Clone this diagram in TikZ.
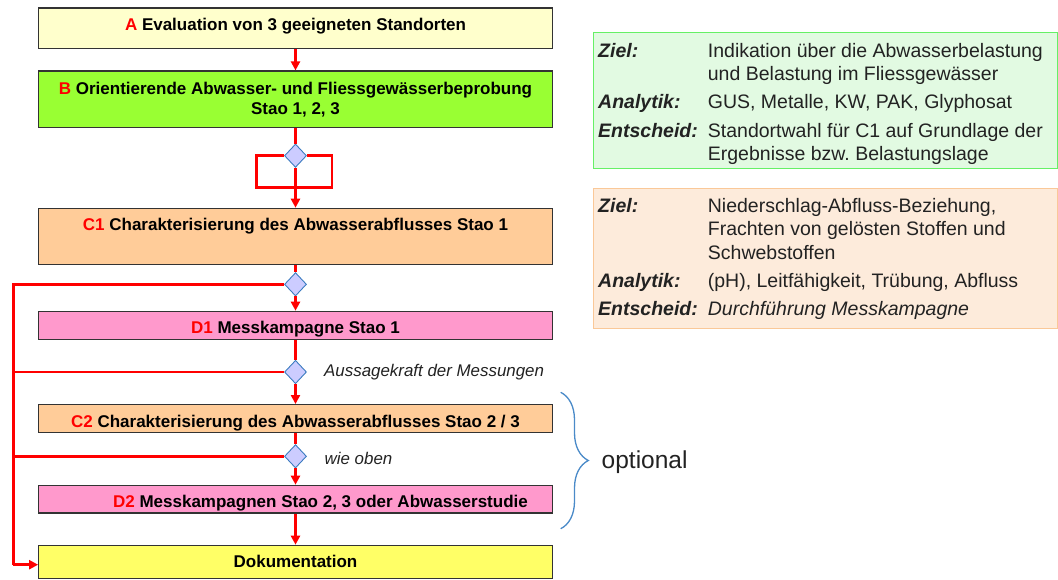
\documentclass[tikz,border=0pt]{standalone}
\usepackage{fontspec}
\setmainfont{Liberation Sans}
\frenchspacing
\usetikzlibrary{shapes.geometric,arrows.meta,decorations.pathreplacing,calc}
\definecolor{cA}{HTML}{FFFFCC}
\definecolor{cB}{HTML}{99FF33}
\definecolor{cC}{HTML}{FFCC99}
\definecolor{cD}{HTML}{FF99CC}
\definecolor{cDok}{HTML}{FFFF66}
\definecolor{boxline}{HTML}{333333}
\definecolor{diafill}{HTML}{CCCCFF}
\definecolor{dialine}{HTML}{3C7CC0}
\definecolor{bracecol}{HTML}{4A8AC8}
\definecolor{gfill}{HTML}{E2FAE2}
\definecolor{gline}{HTML}{66F066}
\definecolor{ofill}{HTML}{FDEBDB}
\definecolor{oline}{HTML}{FAC898}
\definecolor{txtgray}{HTML}{222222}
\begin{document}
\begin{tikzpicture}[x=1pt,y=-1pt,
  flow/.style={draw=boxline, line width=1.2pt, minimum width=513.6pt,
    inner xsep=0pt, inner ysep=0pt, anchor=north,
    font=\fontsize{17}{20}\selectfont\bfseries},
  dec/.style={diamond, draw=dialine, fill=diafill, line width=0.9pt,
    minimum width=22pt, minimum height=23.4pt, inner sep=0pt},
  conn/.style={draw=red, line width=2.6pt},
  arr/.style={conn, -{Triangle[length=9pt,width=9pt]}},
  infobox/.style={line width=1.5pt, minimum width=464.3pt, inner sep=0pt, anchor=north west},
  infotext/.style={anchor=base west, inner sep=0pt, font=\fontsize{19.5}{23.4}\selectfont, text=txtgray},
  note/.style={anchor=west, inner sep=0pt, font=\fontsize{16.9}{19}\selectfont\itshape, text=txtgray}
]
\useasboundingbox (0,0) rectangle (1058,579);

% flow boxes
\node[flow, fill=cA, text height=22.5pt, text depth=17.9pt] (A) at (295.5,7.3)
  {\textcolor{red}{A} Evaluation von 3 geeigneten Standorten};
\node[flow, fill=cB, anchor=center, align=center, minimum height=56.7pt] (B) at (295.5,99.35)
  {\textcolor{red}{B} Orientierende Abwasser- und Fliessgewässerbeprobung\\Stao 1, 2, 3};
\node[flow, fill=cC, text height=22.1pt, text depth=34.2pt] (C1) at (295.5,207.7)
  {\textcolor{red}{C1} Charakterisierung des Abwasserabflusses Stao 1};
\node[flow, fill=cD, text height=21.8pt, text depth=6.5pt] (D1) at (295.5,310.7)
  {\textcolor{red}{D1} Messkampagne Stao 1};
\node[flow, fill=cC, text height=22.8pt, text depth=4.9pt] (C2) at (295.5,404)
  {\textcolor{red}{C2} Charakterisierung des Abwasserabflusses Stao 2 / 3};
\node[flow, fill=cD, text height=22.1pt, text depth=5.5pt] (D2) at (295.5,484.7)
  {\hspace*{50pt}\textcolor{red}{D2} Messkampagnen Stao 2, 3 oder Abwasserstudie};
\node[flow, fill=cDok, text height=21.8pt, text depth=11.5pt] (Dok) at (295.5,544.7)
  {Dokumentation};

% decisions
\node[dec] (d1) at (295.5,155.7) {};
\node[dec] (d2) at (295.5,284.3) {};
\node[dec] (d3) at (295.5,372) {};
\node[dec] (d4) at (295.5,456.3) {};

\coordinate (rtl) at (256.7,155.7);
\coordinate (rbr) at (332,187.7);
\coordinate (L) at (13.3,564.7);

% connectors
\draw[arr] (A.south) -- (B.north);
\draw[conn] (B.south) -- (d1.north);
\draw[conn] (d1.west) -- (rtl) |- (rbr) -- (rbr |- d1.east) -- (d1.east);
\draw[arr] (d1.south) -- (C1.north);
\draw[conn] (C1.south) -- (d2.north);
\draw[arr] (d2.south) -- (D1.north);
\draw[conn] (D1.south) -- (d3.north);
\draw[arr] (d3.south) -- (C2.north);
\draw[conn] (C2.south) -- (d4.north);
\draw[arr] (d4.south) -- (D2.north);
\draw[arr] (D2.south) -- (Dok.north);
\draw[conn] (d2.west) -| (L);
\draw[conn] (d3.west) -- (d3.west -| L);
\draw[conn] (d4.west) -- (d4.west -| L);
\draw[arr] (L) -- (L -| Dok.west);

% notes
\node[note] (n1) at (324,372) {Aussagekraft der Messungen};
\node[note] (n2) at (324.5,458) {wie oben};

% brace
\coordinate (bt) at (560.7,392.3);
\coordinate (bb) at (560.7,528.7);
\draw[bracecol, line width=1.3pt, decorate, decoration={brace, amplitude=27.6pt}] (bt) -- (bb);
\node[anchor=west, inner sep=0pt, font=\fontsize{24.5}{28}\selectfont, text=txtgray] (opt) at (601.5,461.7) {optional};

% info boxes
\node[infobox, draw=gline, fill=gfill, minimum height=136pt] (G) at (592.7,31.7) {};
\node[infotext] (Gt) at ($(G.north west)+(5.3,25.5)$) {%
\begin{tabular}[t]{@{}p{109.7pt}@{}l@{}}
\textbf{\textit{Ziel:}} & Indikation über die Abwasserbelastung\\
 & und Belastung im Fliessgewässer\\[4.8pt]
\textbf{\textit{Analytik:}} & GUS, Metalle, KW, PAK, Glyphosat\\[4.8pt]
\textbf{\textit{Entscheid:}} & Standortwahl für C1 auf Grundlage der\\
 & Ergebnisse bzw. Belastungslage
\end{tabular}};

\node[infobox, draw=oline, fill=ofill, minimum height=140pt] (O) at (592.7,187.7) {};
\node[infotext] (Ot) at ($(O.north west)+(5.3,24.5)$) {%
\begin{tabular}[t]{@{}p{109.7pt}@{}l@{}}
\textbf{\textit{Ziel:}} & Niederschlag-Abfluss-Beziehung,\\
 & Frachten von gelösten Stoffen und\\
 & Schwebstoffen\\[4.8pt]
\textbf{\textit{Analytik:}} & (pH), Leitfähigkeit, Trübung, Abfluss\\[4.8pt]
\textbf{\textit{Entscheid:}} & \textit{Durchführung Messkampagne}
\end{tabular}};
\end{tikzpicture}
\end{document}
